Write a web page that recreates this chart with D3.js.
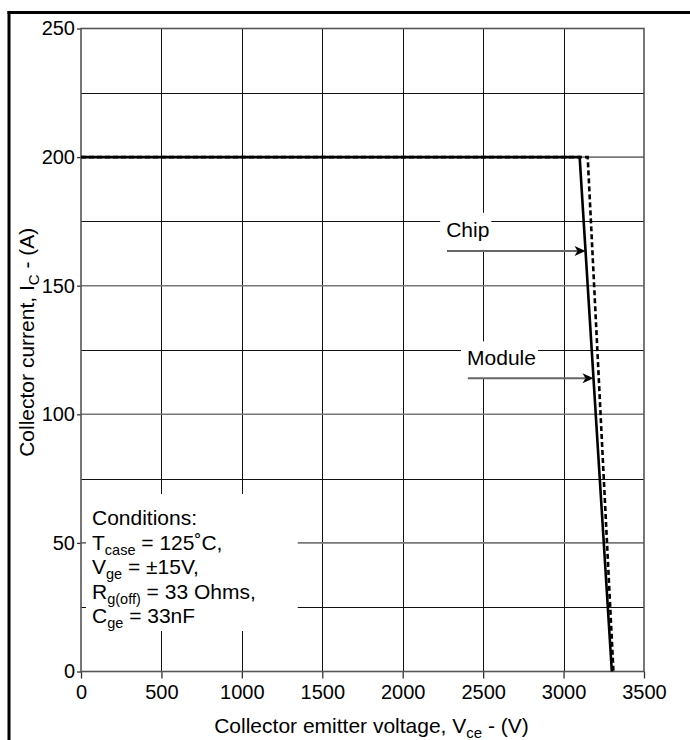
<!DOCTYPE html>
<html><head><meta charset="utf-8">
<script src="https://cdn.jsdelivr.net/npm/d3@7"></script>
<style>
body{margin:0;background:#fff;}
svg{display:block;font-family:"Liberation Sans",Arial,Helvetica,sans-serif;}
</style></head>
<body><svg id="chart" width="690" height="740"></svg>
<script>
// ---- data ----
const xTicks = [0, 500, 1000, 1500, 2000, 2500, 3000, 3500];
const yTicks = [0, 50, 100, 150, 200, 250];
const yMinorGrid = [25, 75, 125, 175, 225];
const solidV = [0, 3100, 3300];
const solidI = [200, 200, 0];
const dashedV = [0, 3150, 3310];
const dashedI = [200, 200, 0];
const annotLabels = ["Chip", "Module"];
const annotLabelV = [2270, 2400];
const annotLabelI = [169, 119];
const annotArrowStartV = [2275, 2405];
const annotArrowI = [163.5, 114];
const conditionLines = [
  [["Conditions:", 0]],
  [["T", 0], ["case", 1], [" = 125˚C,", 0]],
  [["V", 0], ["ge", 1], [" = ±15V,", 0]],
  [["R", 0], ["g(off)", 1], [" = 33 Ohms,", 0]],
  [["C", 0], ["ge", 1], [" = 33nF", 0]]
];

// ---- chart ----
const svg = d3.select("#chart");
svg.append("rect").attr("width", 690).attr("height", 740).attr("fill", "#fff");

const x = d3.scaleLinear().domain([0, 3500]).range([81, 644]);
const y = d3.scaleLinear().domain([0, 250]).range([671.5, 28.5]);

// outer frame
svg.append("line").attr("x1", 9).attr("x2", 9).attr("y1", 11).attr("y2", 740)
  .attr("stroke", "#000").attr("stroke-width", 3);
svg.append("line").attr("x1", 7.5).attr("x2", 690).attr("y1", 12.5).attr("y2", 12.5)
  .attr("stroke", "#000").attr("stroke-width", 3);

const grid = svg.append("g");
grid.selectAll(".vg").data(xTicks.slice(1, -1)).join("line")
  .attr("x1", d => Math.round(x(d)) + 0.5).attr("x2", d => Math.round(x(d)) + 0.5)
  .attr("y1", y(250)).attr("y2", y(0))
  .attr("stroke", "#111").attr("stroke-width", 1);
grid.selectAll(".hm").data(yMinorGrid).join("line")
  .attr("x1", x(0)).attr("x2", x(3500))
  .attr("y1", d => Math.round(y(d)) + 0.5).attr("y2", d => Math.round(y(d)) + 0.5)
  .attr("stroke", "#111").attr("stroke-width", 1);
grid.selectAll(".hM").data(yTicks.slice(1, -1)).join("line")
  .attr("x1", x(0)).attr("x2", x(3500))
  .attr("y1", d => y(d)).attr("y2", d => y(d))
  .attr("stroke", "#777").attr("stroke-width", 1.6);

// axes
const xAxis = d3.axisBottom(x).tickValues(xTicks).tickSize(7).tickPadding(6).tickFormat(d3.format("d"));
const yAxis = d3.axisLeft(y).tickValues(yTicks).tickSize(4).tickPadding(2).tickFormat(d3.format("d"));
const gx = svg.append("g").attr("transform", `translate(0,${y(0)})`).call(xAxis);
const gy = svg.append("g").attr("transform", `translate(${x(0)},0)`).call(yAxis);
[gx, gy].forEach(g => {
  g.select(".domain").remove();
  g.selectAll(".tick line").attr("stroke", "#333").attr("stroke-width", 1.3);
  g.selectAll(".tick text").attr("fill", "#000").style("font-size", "20px")
    .style("font-family", '"Liberation Sans",Arial,sans-serif');
});

// plot border
svg.append("rect").attr("x", x(0)).attr("y", y(250))
  .attr("width", x(3500) - x(0)).attr("height", y(0) - y(250))
  .attr("fill", "none").attr("stroke", "#555").attr("stroke-width", 1.6);

// annotations
const annot = svg.append("g");
function richText(g, parts, tx, ty, size) {
  const t = g.append("text").attr("x", tx).attr("y", ty).style("font-size", size + "px").attr("fill", "#000");
  parts.forEach(([s, sub], i) => {
    const ts = t.append("tspan").text(s);
    if (sub) ts.style("font-size", "14.5px").attr("dy", 5);
    else if (i > 0 && parts[i - 1][1]) ts.attr("dy", -5);
  });
  return t;
}
const condG = annot.append("g");
const condBg = condG.append("rect").attr("fill", "#fff");
conditionLines.forEach((parts, i) => richText(condG, parts, 92, 525 + i * 24.5, 21));
{
  const b = condG.node().getBBox();
  condBg.attr("x", b.x - 6).attr("y", b.y - 12).attr("width", b.width + 48).attr("height", b.height + 12);
}
annotLabels.forEach((lab, i) => {
  const g = annot.append("g");
  const bg = g.append("rect").attr("fill", "#fff");
  const t = g.append("text").attr("x", x(annotLabelV[i])).attr("y", y(annotLabelI[i]))
    .style("font-size", "21px").attr("fill", "#000").text(lab);
  const b = t.node().getBBox();
  bg.attr("x", b.x - 6).attr("y", b.y - 5).attr("width", b.width + 8).attr("height", b.height + 14);
});

// data lines
const line = d3.line().x(d => x(d[0])).y(d => y(d[1]));
svg.append("path").datum(dashedV.map((v, i) => [v, dashedI[i]]))
  .attr("d", line).attr("fill", "none").attr("stroke", "#000")
  .attr("stroke-width", 2.6).attr("stroke-dasharray", "5,3");
svg.append("path").datum(solidV.map((v, i) => [v, solidI[i]]))
  .attr("d", line).attr("fill", "none").attr("stroke", "#000").attr("stroke-width", 2.6);

// arrows pointing to the solid line
function solidXAt(I) {
  const t = (solidI[1] - I) / (solidI[1] - solidI[2]);
  return solidV[1] + t * (solidV[2] - solidV[1]);
}
annotArrowI.forEach((I, i) => {
  const ya = y(I);
  const x0 = x(annotArrowStartV[i]);
  const xt = x(solidXAt(I));
  svg.append("line").attr("x1", x0).attr("x2", xt - 8).attr("y1", ya).attr("y2", ya)
    .attr("stroke", "#666").attr("stroke-width", 2);
  svg.append("path")
    .attr("d", `M${xt},${ya} L${xt - 11},${ya - 5} L${xt - 8},${ya} L${xt - 11},${ya + 5} Z`)
    .attr("fill", "#000");
});

// axis titles
const xt = svg.append("text").attr("x", x(1750) + 9).attr("y", 733).attr("text-anchor", "middle")
  .style("font-size", "21px").attr("fill", "#000");
xt.append("tspan").text("Collector emitter voltage, V");
xt.append("tspan").text("ce").style("font-size", "15px").attr("dy", 5);
xt.append("tspan").text(" - (V)").attr("dy", -5);

const yt = svg.append("text").attr("transform", `translate(34,${y(128)}) rotate(-90)`)
  .attr("text-anchor", "middle").style("font-size", "21px").attr("fill", "#000");
yt.append("tspan").text("Collector current, I");
yt.append("tspan").text("C").style("font-size", "15px").attr("dy", 5);
yt.append("tspan").text(" - (A)").attr("dy", -5);
</script>
</body></html>
